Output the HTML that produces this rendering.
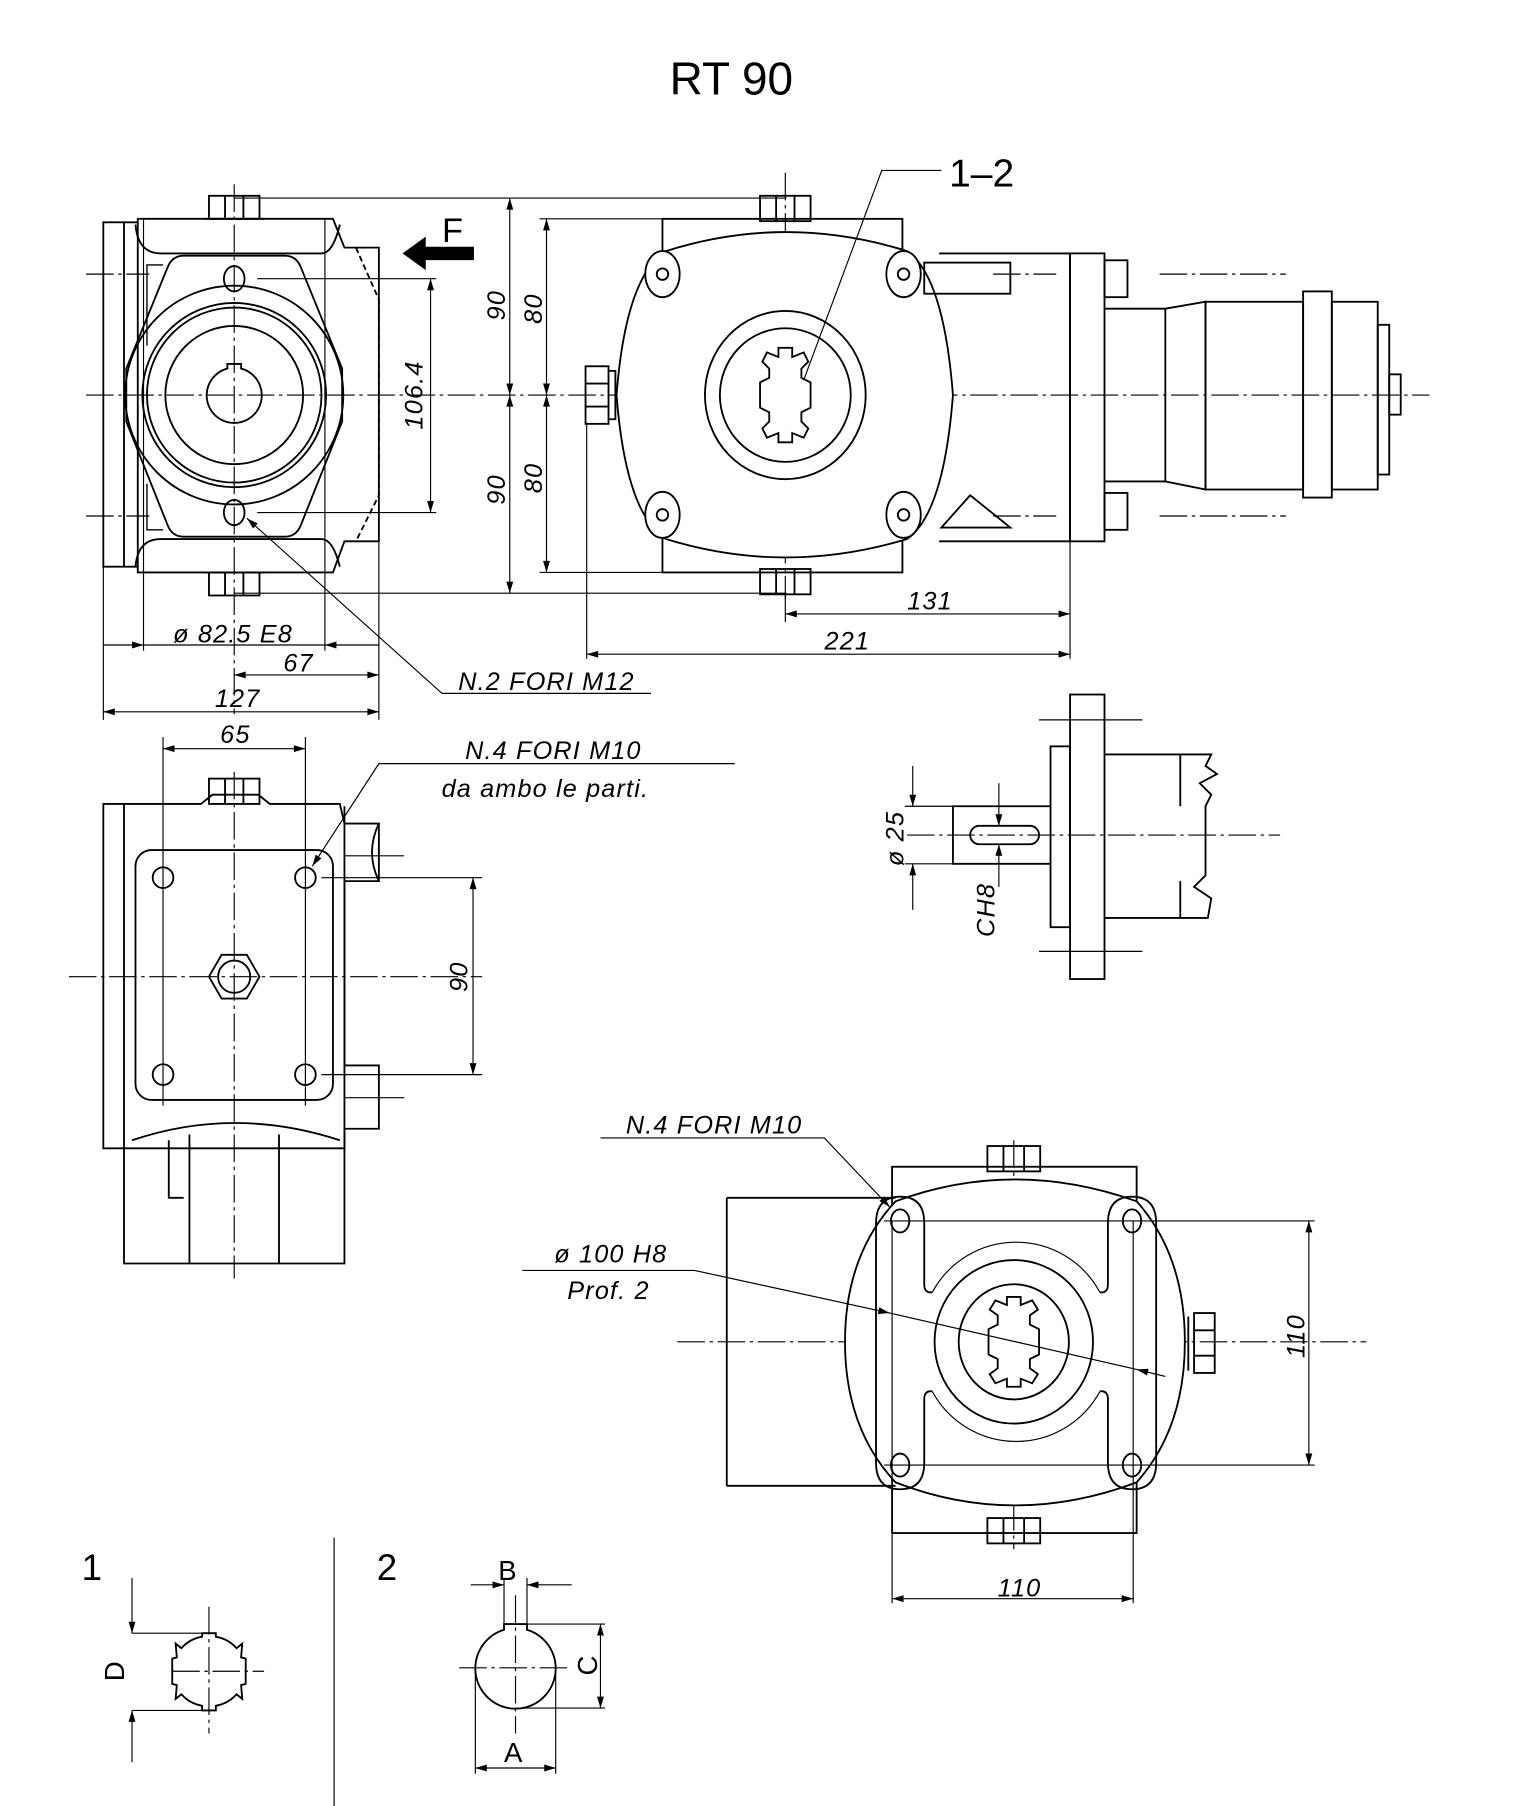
<!DOCTYPE html>
<html><head><meta charset="utf-8"><style>
html,body{margin:0;padding:0;background:#fff;}
svg{display:block;}
text{font-family:"Liberation Sans",sans-serif;fill:#000;}
.d{font-style:italic;font-size:22px;letter-spacing:1px;}
</style></head><body>
<svg width="1527" height="1806" viewBox="0 0 1330 1568" preserveAspectRatio="none" xmlns="http://www.w3.org/2000/svg">
<defs>
<marker id="a" viewBox="0 0 10 6" refX="10" refY="3" markerWidth="14" markerHeight="6" markerUnits="userSpaceOnUse" orient="auto-start-reverse"><path d="M0,0L10,3L0,6z" fill="#000"/></marker>
</defs>
<g fill="none" stroke="#000" stroke-width="1.6">
<g stroke-width="1" stroke-dasharray="24,4,3,4">
<line x1="75" y1="343" x2="1245" y2="343"/>
<line x1="204" y1="160" x2="204" y2="620"/>
<line x1="684" y1="150" x2="684" y2="520"/>
<line x1="60" y1="848" x2="420" y2="848"/>
<line x1="204" y1="670" x2="204" y2="1110"/>
<line x1="790" y1="725" x2="1115" y2="725"/>
<line x1="590" y1="1165" x2="1190" y2="1165"/>
<line x1="883" y1="990" x2="883" y2="1345"/>
<line x1="75" y1="238" x2="130" y2="238"/><line x1="75" y1="448" x2="130" y2="448"/>
<line x1="865" y1="238" x2="920" y2="238"/><line x1="865" y1="448" x2="920" y2="448"/>
<line x1="1010" y1="238" x2="1120" y2="238"/><line x1="1010" y1="448" x2="1120" y2="448"/>
<line x1="150" y1="1451" x2="230" y2="1451"/><line x1="182" y1="1395" x2="182" y2="1505"/>
<line x1="400" y1="1448" x2="495" y2="1448"/><line x1="449" y1="1385" x2="449" y2="1505"/>
</g>

<!-- TOP LEFT VIEW -->
<rect x="90" y="193" width="18" height="299"/>
<path d="M108,193 H120 M108,492 H120"/>
<path d="M120,190 H290 L300,215 H330 V470 H300 L290,497 H120 Z"/>
<path d="M118,195 Q120,220 140,220 H280 Q290,220 296,195"/>
<path d="M118,492 Q120,468 140,468 H280 Q290,468 296,492"/>
<path d="M310,215 L330,260 V430 L310,470" stroke-dasharray="5,3"/>
<path d="M160,222 H248 Q258,222 262,232 L298,320 V366 L262,456 Q258,466 248,466 H160 Q150,466 146,456 L110,366 V320 L146,232 Q150,222 160,222 Z"/>
<circle cx="204" cy="343" r="95"/><circle cx="204" cy="343" r="80"/><circle cx="204" cy="343" r="76"/><circle cx="204" cy="343" r="60"/>
<path d="M198,320 V316 H210 V320 A24,24 0 1 1 198,320 Z"/>
<ellipse cx="204" cy="242" rx="9" ry="11"/><ellipse cx="204" cy="445" rx="9" ry="11"/>
<line x1="224" y1="242" x2="380" y2="242" stroke-width="1"/><line x1="224" y1="445" x2="380" y2="445" stroke-width="1"/>
<rect x="182" y="170" width="44" height="20"/><path d="M196,170V190M212,170V190M178,190H230"/>
<rect x="182" y="497" width="44" height="20"/><path d="M196,497V517M212,497V517M178,497H230"/>
<path d="M142,230 H128 V300 M128,420 V460 H142" stroke-width="1.2"/>
<line x1="125" y1="190" x2="125" y2="565" stroke-width="1"/><line x1="283" y1="190" x2="283" y2="565" stroke-width="1"/>
<line x1="90" y1="492" x2="90" y2="625" stroke-width="1"/><line x1="330" y1="470" x2="330" y2="625" stroke-width="1"/>
<line x1="204" y1="172" x2="685" y2="172" stroke-width="1"/><line x1="204" y1="515" x2="685" y2="515" stroke-width="1"/>
<path d="M352,220 L370,207 V215 H412 V225 H370 V233 Z" fill="#000"/>
<line x1="375" y1="242" x2="375" y2="445" stroke-width="1" marker-start="url(#a)" marker-end="url(#a)"/>
<line x1="444" y1="172" x2="444" y2="343" stroke-width="1" marker-start="url(#a)" marker-end="url(#a)"/>
<line x1="444" y1="343" x2="444" y2="515" stroke-width="1" marker-start="url(#a)" marker-end="url(#a)"/>
<line x1="476" y1="190" x2="476" y2="343" stroke-width="1" marker-start="url(#a)" marker-end="url(#a)"/>
<line x1="476" y1="343" x2="476" y2="497" stroke-width="1" marker-start="url(#a)" marker-end="url(#a)"/>
<line x1="470" y1="190" x2="577" y2="190" stroke-width="1"/><line x1="470" y1="497" x2="577" y2="497" stroke-width="1"/>

<!-- MIDDLE VIEW -->
<rect x="577" y="190" width="209" height="307"/>
<path d="M580,218 Q684,185 790,218 Q822,240 830,343 Q822,446 790,468 Q684,500 580,468 Q545,446 537,343 Q545,240 580,218 Z" fill="#fff"/>
<g fill="#fff">
<ellipse cx="577" cy="238" rx="15" ry="20"/><ellipse cx="787" cy="238" rx="15" ry="20"/>
<ellipse cx="577" cy="447" rx="15" ry="20"/><ellipse cx="787" cy="447" rx="15" ry="20"/>
</g>
<circle cx="577" cy="238" r="5"/><circle cx="787" cy="238" r="5"/><circle cx="577" cy="447" r="5"/><circle cx="787" cy="447" r="5"/>
<ellipse cx="684" cy="343" rx="70" ry="73"/><ellipse cx="684" cy="343" rx="57" ry="58"/>
<path d="M678,302 H690 V310 L700,306 L704,314 L698,320 V328 L706,332 V354 L698,358 V366 L704,372 L700,380 L690,376 V384 H678 V376 L668,380 L664,372 L670,366 V358 L662,354 V332 L670,328 V320 L664,314 L668,306 L678,310 Z"/>
<rect x="662" y="170" width="44" height="22"/><path d="M676,170V192M692,170V192"/>
<rect x="662" y="494" width="44" height="22"/><path d="M676,494V516M692,494V516"/>
<rect x="510" y="318" width="20" height="50"/><path d="M510,333H530M510,353H530M530,322H536V364H530"/>
<path d="M818,220 H932 V470 H818"/>
<rect x="805" y="228" width="75" height="27"/>
<path d="M820,458 L845,430 L880,458 Z"/>
<rect x="932" y="220" width="30" height="250"/>
<rect x="962" y="226" width="20" height="32"/><rect x="962" y="428" width="20" height="32"/>
<path d="M962,268 H1015 L1050,262 V425 L1015,418 H962"/>
<path d="M1015,268 V418"/>
<rect x="1050" y="262" width="85" height="163"/>
<rect x="1135" y="253" width="25" height="179"/>
<rect x="1160" y="262" width="40" height="163"/>
<rect x="1200" y="282" width="10" height="130"/>
<rect x="1210" y="325" width="10" height="35"/>
<line x1="932" y1="470" x2="932" y2="572" stroke-width="1"/>
<line x1="511" y1="368" x2="511" y2="572" stroke-width="1"/>
<line x1="684" y1="515" x2="684" y2="540" stroke-width="1"/>
<line x1="684" y1="533" x2="932" y2="533" stroke-width="1" marker-start="url(#a)" marker-end="url(#a)"/>
<line x1="511" y1="568" x2="932" y2="568" stroke-width="1" marker-start="url(#a)" marker-end="url(#a)"/>
<polyline points="700,330 768,148 820,148" stroke-width="1"/>
<line x1="90" y1="560" x2="125" y2="560" stroke-width="1" marker-end="url(#a)"/>
<line x1="330" y1="560" x2="283" y2="560" stroke-width="1" marker-end="url(#a)"/>
<line x1="125" y1="560" x2="283" y2="560" stroke-width="1"/>
<line x1="204" y1="586" x2="330" y2="586" stroke-width="1" marker-start="url(#a)" marker-end="url(#a)"/>
<line x1="90" y1="618" x2="330" y2="618" stroke-width="1" marker-start="url(#a)" marker-end="url(#a)"/>
<polyline points="567,602 385,602 215,450" stroke-width="1" marker-end="url(#a)"/>

<!-- SIDE VIEW -->
<rect x="90" y="698" width="18" height="299"/>
<path d="M108,698 H175 L185,690 H225 L235,698 H296 L300,715 H330 V765 H300 V925 H330 V980 H300 V997 H108"/>
<path d="M300,700 V997"/>
<path d="M330,715 Q318,740 330,765"/>
<path d="M108,997 V1097 H300 V997"/>
<path d="M115,990 Q204,960 296,990"/>
<path d="M165,985 V1097 M243,985 V1097"/>
<path d="M147,990 V1040 H160"/>
<rect x="118" y="738" width="172" height="217" rx="14"/>
<circle cx="142" cy="762" r="9"/><circle cx="266" cy="762" r="9"/><circle cx="142" cy="933" r="9"/><circle cx="266" cy="933" r="9"/>
<path d="M182,848 L193,829 H215 L226,848 L215,867 H193 Z"/><circle cx="204" cy="848" r="14"/>
<rect x="182" y="676" width="44" height="22"/><path d="M196,676V698M212,676V698"/>
<line x1="142" y1="640" x2="142" y2="960" stroke-width="1"/><line x1="266" y1="640" x2="266" y2="960" stroke-width="1"/>
<line x1="142" y1="650" x2="266" y2="650" stroke-width="1" marker-start="url(#a)" marker-end="url(#a)"/>
<line x1="280" y1="762" x2="420" y2="762" stroke-width="1"/><line x1="280" y1="933" x2="420" y2="933" stroke-width="1"/>
<line x1="412" y1="762" x2="412" y2="933" stroke-width="1" marker-start="url(#a)" marker-end="url(#a)"/>
<line x1="300" y1="743" x2="352" y2="743" stroke-width="1"/><line x1="300" y1="953" x2="352" y2="953" stroke-width="1"/>
<polyline points="640,663 330,663 272,752" stroke-width="1" marker-end="url(#a)"/>

<!-- SHAFT DETAIL -->
<rect x="932" y="603" width="30" height="247"/>
<rect x="915" y="648" width="17" height="157"/>
<path d="M915,700 H830 V750 H915"/>
<rect x="845" y="717" width="60" height="16" rx="8"/>
<path d="M962,655 H1055 L1050,665 L1060,672 L1045,680 L1055,690 L1050,700 V760 L1040,770 L1055,780 L1052,797 H962"/>
<path d="M1028,655 V700 M1028,765 V797"/>
<line x1="905" y1="625" x2="995" y2="625" stroke-width="1"/><line x1="905" y1="826" x2="995" y2="826" stroke-width="1"/>
<line x1="788" y1="700" x2="830" y2="700" stroke-width="1"/><line x1="788" y1="750" x2="830" y2="750" stroke-width="1"/>
<line x1="795" y1="665" x2="795" y2="700" stroke-width="1" marker-end="url(#a)"/>
<line x1="795" y1="790" x2="795" y2="750" stroke-width="1" marker-end="url(#a)"/>
<line x1="870" y1="680" x2="870" y2="717" stroke-width="1" marker-end="url(#a)"/>
<line x1="870" y1="770" x2="870" y2="733" stroke-width="1" marker-end="url(#a)"/>

<!-- BOTTOM RIGHT VIEW -->
<rect x="777" y="1013" width="213" height="318"/>
<path d="M633,1040 H780 M633,1290 H780 M633,1040 V1290"/>
<path d="M780,1043 Q883,1005 990,1043 Q1032,1090 1032,1165 Q1032,1240 990,1287 Q883,1327 780,1287 Q736,1240 736,1165 Q736,1090 780,1043 Z" fill="#fff"/>
<path d="M784,1039 Q763,1039 763,1062 V1270 Q763,1293 784,1293 Q805,1293 805,1270 V1215 Q805,1207 812,1208 M812,1122 Q805,1123 805,1115 V1062 Q805,1039 784,1039"/>
<path d="M986,1039 Q1007,1039 1007,1062 V1270 Q1007,1293 986,1293 Q965,1293 965,1270 V1215 Q965,1207 958,1208 M958,1122 Q965,1123 965,1115 V1062 Q965,1039 986,1039"/>
<path d="M812,1122 A83,83 0 0 1 958,1122 M812,1208 A83,83 0 0 0 958,1208" stroke-width="1"/>
<ellipse cx="784" cy="1060" rx="8" ry="10"/><ellipse cx="986" cy="1060" rx="8" ry="10"/>
<ellipse cx="784" cy="1272" rx="8" ry="10"/><ellipse cx="986" cy="1272" rx="8" ry="10"/>
<ellipse cx="883" cy="1165" rx="69" ry="71"/><ellipse cx="883" cy="1165" rx="48" ry="50"/>
<path d="M877,1126 H889 V1133 L899,1129 L904,1137 L897,1142 V1150 L905,1154 V1176 L897,1180 V1188 L904,1193 L899,1201 L889,1197 V1204 H877 V1197 L867,1201 L862,1193 L869,1188 V1180 L861,1176 V1154 L869,1150 V1142 L862,1137 L867,1129 L877,1133 Z"/>
<rect x="860" y="995" width="46" height="22"/><path d="M874,995V1017M892,995V1017"/>
<rect x="860" y="1318" width="46" height="22"/><path d="M874,1318V1340M892,1318V1340"/>
<rect x="1040" y="1140" width="18" height="52"/><path d="M1040,1155H1058M1040,1177H1058M1035,1143V1190"/>
<line x1="777" y1="1060" x2="777" y2="1392" stroke-width="1"/><line x1="987" y1="1060" x2="987" y2="1392" stroke-width="1"/>
<line x1="770" y1="1060" x2="1145" y2="1060" stroke-width="1"/><line x1="770" y1="1272" x2="1145" y2="1272" stroke-width="1"/>
<line x1="1140" y1="1060" x2="1140" y2="1272" stroke-width="1" marker-start="url(#a)" marker-end="url(#a)"/>
<line x1="777" y1="1388" x2="987" y2="1388" stroke-width="1" marker-start="url(#a)" marker-end="url(#a)"/>
<polyline points="523,988 718,988 775,1048" stroke-width="1" marker-end="url(#a)"/>
<polyline points="455,1103 605,1103 775,1140" stroke-width="1" marker-end="url(#a)"/>
<line x1="1015" y1="1195" x2="990" y2="1189" stroke-width="1" marker-end="url(#a)"/>
<line x1="775" y1="1140" x2="990" y2="1189" stroke-width="1"/>

<!-- BOTTOM DETAILS -->
<line x1="291" y1="1335" x2="291" y2="1568" stroke-width="1"/>
<path d="M176,1418 H188 V1421 Q199,1423 206,1431 L211,1427 L210,1439 L214,1440 V1462 L210,1463 L211,1475 L206,1471 Q199,1479 188,1481 V1485 H176 V1481 Q165,1479 158,1471 L153,1475 L154,1463 L150,1462 V1440 L154,1439 L153,1427 L158,1431 Q165,1423 176,1421 Z"/>
<line x1="115" y1="1418" x2="182" y2="1418" stroke-width="1"/><line x1="115" y1="1485" x2="182" y2="1485" stroke-width="1"/>
<line x1="115" y1="1370" x2="115" y2="1418" stroke-width="1" marker-end="url(#a)"/>
<line x1="115" y1="1530" x2="115" y2="1485" stroke-width="1" marker-end="url(#a)"/>
<path d="M439,1410 H459 V1415 A35,35 0 1 1 439,1415 Z"/>
<line x1="459" y1="1410" x2="527" y2="1410" stroke-width="1"/><line x1="449" y1="1483" x2="527" y2="1483" stroke-width="1"/>
<line x1="523" y1="1410" x2="523" y2="1483" stroke-width="1" marker-start="url(#a)" marker-end="url(#a)"/>
<line x1="439" y1="1370" x2="439" y2="1410" stroke-width="1"/><line x1="459" y1="1370" x2="459" y2="1410" stroke-width="1"/>
<line x1="410" y1="1376" x2="439" y2="1376" stroke-width="1" marker-end="url(#a)"/>
<line x1="498" y1="1376" x2="459" y2="1376" stroke-width="1" marker-end="url(#a)"/>
<line x1="414" y1="1448" x2="414" y2="1540" stroke-width="1"/><line x1="484" y1="1448" x2="484" y2="1540" stroke-width="1"/>
<line x1="414" y1="1535" x2="484" y2="1535" stroke-width="1" marker-start="url(#a)" marker-end="url(#a)"/>
</g>

<text x="637" y="82" font-size="40" text-anchor="middle">RT 90</text>
<text x="855" y="162" font-size="34" text-anchor="middle">1–2</text>
<text x="385" y="210" font-size="30">F</text>
<text class="d" transform="translate(368,343) rotate(-90)" text-anchor="middle">106.4</text>
<text class="d" transform="translate(440,265) rotate(-90)" text-anchor="middle">90</text>
<text class="d" transform="translate(472,268) rotate(-90)" text-anchor="middle">80</text>
<text class="d" transform="translate(440,425) rotate(-90)" text-anchor="middle">90</text>
<text class="d" transform="translate(472,415) rotate(-90)" text-anchor="middle">80</text>
<text class="d" x="810" y="529" text-anchor="middle">131</text>
<text class="d" x="738" y="564" text-anchor="middle">221</text>
<text class="d" x="203" y="558" text-anchor="middle">ø 82.5 E8</text>
<text class="d" x="260" y="583" text-anchor="middle">67</text>
<text class="d" x="207" y="614" text-anchor="middle">127</text>
<text class="d" x="476" y="599" text-anchor="middle">N.2 FORI M12</text>
<text class="d" x="205" y="645" text-anchor="middle">65</text>
<text class="d" x="482" y="659" text-anchor="middle">N.4 FORI M10</text>
<text class="d" x="475" y="692" text-anchor="middle">da ambo le parti.</text>
<text class="d" transform="translate(407,848) rotate(-90)" text-anchor="middle">90</text>
<text class="d" transform="translate(787,728) rotate(-90)" text-anchor="middle">ø 25</text>
<text class="d" transform="translate(866,790) rotate(-90)" text-anchor="middle">CH8</text>
<text class="d" x="622" y="984" text-anchor="middle">N.4 FORI M10</text>
<text class="d" x="532" y="1096" text-anchor="middle">ø 100 H8</text>
<text class="d" x="530" y="1128" text-anchor="middle">Prof. 2</text>
<text class="d" transform="translate(1136,1160) rotate(-90)" text-anchor="middle">110</text>
<text class="d" x="888" y="1386" text-anchor="middle">110</text>
<text x="80" y="1372" font-size="32" text-anchor="middle">1</text>
<text x="337" y="1372" font-size="32" text-anchor="middle">2</text>
<text transform="translate(108,1451) rotate(-90)" font-size="24" text-anchor="middle">D</text>
<text x="442" y="1372" font-size="24" text-anchor="middle">B</text>
<text transform="translate(520,1446) rotate(-90)" font-size="24" text-anchor="middle">C</text>
<text x="447" y="1530" font-size="24" text-anchor="middle">A</text>
</svg>
</body></html>
